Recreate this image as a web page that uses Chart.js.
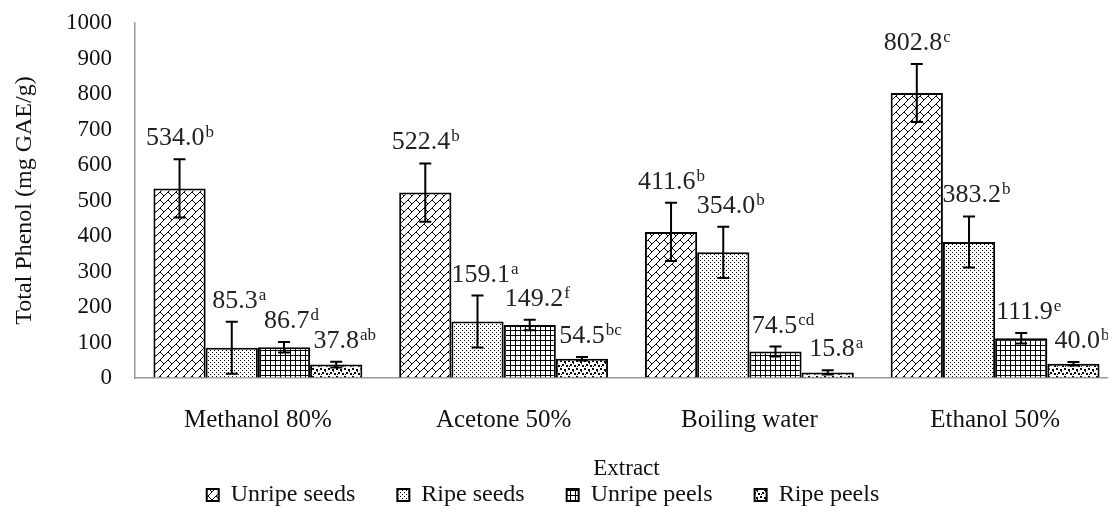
<!DOCTYPE html>
<html>
<head>
<meta charset="utf-8">
<script src="https://cdn.jsdelivr.net/npm/chart.js@4/dist/chart.umd.min.js"></script>
<style>
  html, body { margin: 0; padding: 0; overflow: hidden; background: #fff; }
  #wrap { width: 1120px; height: 506px; }
</style>
</head>
<body>
<div id="wrap"><canvas id="chart"></canvas></div>
<script>
// data
const categories = ['Methanol 80%', 'Acetone 50%', 'Boiling water', 'Ethanol 50%'];
const seriesNames = ['Unripe seeds', 'Ripe seeds', 'Unripe peels', 'Ripe peels'];

const unripeSeeds = [534.0, 522.4, 411.6, 802.8];
const ripeSeeds = [85.3, 159.1, 354.0, 383.2];
const unripePeels = [86.7, 149.2, 74.5, 111.9];
const ripePeels = [37.8, 54.5, 15.8, 40.0];

// standard deviations (error bars)
const unripeSeedsErr = [82, 82, 82, 82];
const ripeSeedsErr = [73, 73, 72, 72];
const unripePeelsErr = [15, 15, 14, 15];
const ripePeelsErr = [8, 5, 6, 5];

// significance letters
const unripeSeedsSig = ['b', 'b', 'b', 'c'];
const ripeSeedsSig = ['a', 'a', 'b', 'b'];
const unripePeelsSig = ['d', 'f', 'cd', 'e'];
const ripePeelsSig = ['ab', 'bc', 'a', 'b'];

const yMax = 1000;
const yStep = 100;

const FONT = '"Liberation Serif", "Times New Roman", serif';

// fill patterns, one per series
function makePattern(size, draw) {
  const c = document.createElement('canvas');
  c.width = size; c.height = size;
  const g = c.getContext('2d');
  g.fillStyle = '#fff';
  g.fillRect(0, 0, size, size);
  g.fillStyle = '#000';
  g.strokeStyle = '#000';
  draw(g);
  return g.createPattern(c, 'repeat');
}

const brick = makePattern(8, g => {
  g.lineWidth = 1;
  g.beginPath();
  g.moveTo(-1, 9); g.lineTo(9, -1);
  g.moveTo(0, 0); g.lineTo(4, 4);
  g.stroke();
});
const fineDots = makePattern(4, g => {
  g.fillRect(0, 0, 1, 1);
  g.fillRect(2, 2, 1, 1);
});
const smallGrid = makePattern(5, g => {
  g.fillRect(0, 0, 5, 1);
  g.fillRect(0, 0, 1, 5);
});
const confetti = makePattern(8, g => {
  g.fillRect(0, 0, 2, 2);
  g.fillRect(4, 1, 2, 2);
  g.fillRect(2, 4, 2, 2);
  g.fillRect(6, 5, 2, 2);
  g.fillRect(5, 3, 1, 1);
  g.fillRect(1, 6, 1, 1);
});

const valueSets = [unripeSeeds, ripeSeeds, unripePeels, ripePeels];
const errSets = [unripeSeedsErr, ripeSeedsErr, unripePeelsErr, ripePeelsErr];
const sigSets = [unripeSeedsSig, ripeSeedsSig, unripePeelsSig, ripePeelsSig];
const fills = [brick, fineDots, smallGrid, confetti];
const labelShift = [0, 7, 7, 8];

const datasets = valueSets.map((vals, i) => ({
  label: seriesNames[i],
  data: vals,
  backgroundColor: fills[i],
  borderColor: '#000',
  borderWidth: 2,
  borderSkipped: 'bottom',
  categoryPercentage: 0.85,
  barPercentage: 1.0
}));

// error bars + value labels with superscript letters
const errorLabels = {
  id: 'errorLabels',
  afterDatasetsDraw(chart) {
    const ctx = chart.ctx;
    const ys = chart.scales.y;
    ctx.save();
    datasets.forEach((ds, di) => {
      const meta = chart.getDatasetMeta(di);
      meta.data.forEach((bar, i) => {
        const v = valueSets[di][i];
        const e = errSets[di][i];
        const top = ys.getPixelForValue(v + e);
        const bot = ys.getPixelForValue(Math.max(v - e, 0));
        const x = bar.x;
        ctx.strokeStyle = '#000';
        ctx.lineWidth = 2;
        ctx.beginPath();
        ctx.moveTo(x, top); ctx.lineTo(x, bot);
        ctx.moveTo(x - 6, top); ctx.lineTo(x + 6, top);
        ctx.moveTo(x - 6, bot); ctx.lineTo(x + 6, bot);
        ctx.stroke();

        const num = v.toFixed(1);
        const sup = sigSets[di][i];
        ctx.font = '26px ' + FONT;
        const w1 = ctx.measureText(num).width;
        ctx.font = '17px ' + FONT;
        const w2 = ctx.measureText(sup).width;
        const left = x + labelShift[di] - (w1 + w2) / 2;
        const base = top - 14;
        ctx.fillStyle = '#222';
        ctx.textAlign = 'left';
        ctx.textBaseline = 'alphabetic';
        ctx.font = '26px ' + FONT;
        ctx.fillText(num, left, base);
        ctx.font = '17px ' + FONT;
        ctx.fillText(sup, left + w1 + 1, base - 8);
      });
    });
    ctx.restore();
  }
};

const defaultLabels = Chart.defaults.plugins.legend.labels.generateLabels;

new Chart(document.getElementById('chart'), {
  type: 'bar',
  data: { labels: categories, datasets: datasets },
  plugins: [errorLabels],
  options: {
    responsive: true,
    maintainAspectRatio: false,
    animation: false,
    devicePixelRatio: 1,
    layout: { padding: { left: 10, right: 2, top: 23, bottom: -11 } },
    plugins: {
      legend: {
        position: 'bottom',
        labels: {
          boxWidth: 12,
          boxHeight: 12,
          padding: 0,
          color: '#111',
          font: { family: FONT, size: 24 },
          // trailing spaces give the gap between legend entries
          generateLabels: chart => defaultLabels(chart).map(l => Object.assign(l, { text: l.text + '\u00a0'.repeat(7) }))
        }
      },
      tooltip: { enabled: false }
    },
    scales: {
      x: {
        afterFit: s => { s.height = 105; },
        grid: { drawOnChartArea: false, drawTicks: false },
        border: { display: true, color: '#999', width: 1.5 },
        ticks: { padding: 27, color: '#111', font: { family: FONT, size: 25 } },
        title: {
          display: true,
          text: 'Extract',
          color: '#111',
          font: { family: FONT, size: 23 },
          padding: { top: 0, bottom: 0 }
        }
      },
      y: {
        min: 0,
        max: yMax,
        afterFit: s => { s.width = 125; },
        grid: { drawOnChartArea: false, drawTicks: false },
        border: { display: true, color: '#999', width: 1.5 },
        ticks: {
          stepSize: yStep,
          autoSkip: false,
          padding: 0,
          color: '#111',
          font: { family: FONT, size: 23 },
          // gap to the axis line made with trailing spaces (tick padding would also pad the top)
          callback: v => String(v) + '\u00a0'.repeat(4)
        },
        title: {
          display: true,
          text: 'Total Phenol (mg GAE/g)',
          color: '#111',
          font: { family: FONT, size: 24 },
          padding: { top: 0, bottom: 0 }
        }
      }
    }
  }
});
</script>
</body>
</html>
